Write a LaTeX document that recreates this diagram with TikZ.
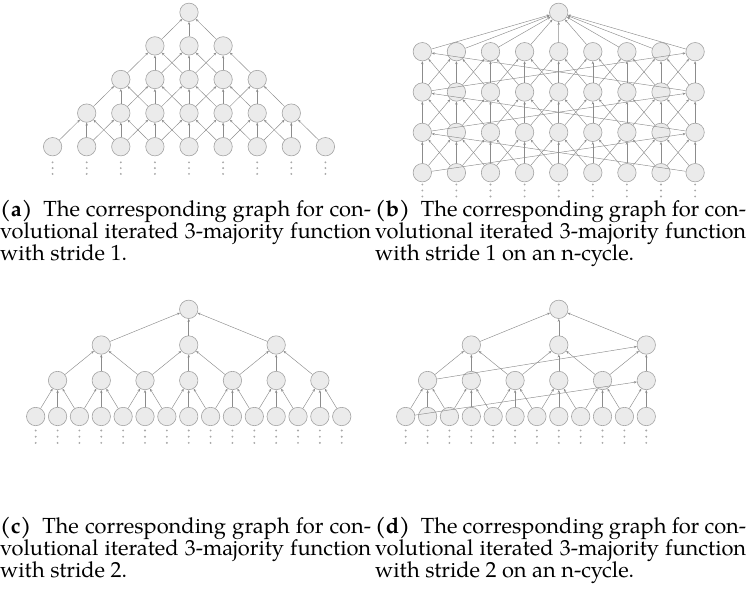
\documentclass[tikz,border=0pt]{standalone}
\usepackage{fontspec}
\setmainfont{TeX Gyre Pagella}
\usetikzlibrary{arrows.meta}
\definecolor{nodefill}{HTML}{EBEBEB}
\definecolor{nodeline}{HTML}{A3A3A3}
\definecolor{edgecol}{HTML}{8C8C8C}
\definecolor{dotcol}{HTML}{A8A8A8}
\newlength\capw
\tikzset{
  gnode/.style={circle, draw=nodeline, fill=nodefill, line width=0.6pt, minimum size=18.4pt, inner sep=0pt},
  edge/.style={draw=edgecol, line width=0.45pt, -{Stealth[length=3pt,width=2.4pt]}},
  vdot/.style={circle, fill=dotcol, minimum size=2.1pt, inner sep=0pt},
  captxt/.style={inner sep=0pt, anchor=base west, font=\fontsize{\capsize pt}{22pt}\selectfont},
}
\begin{document}
\settowidth\capw{\fontsize{10pt}{12pt}\selectfont volutional iterated 3-majority function}%
\pgfmathsetmacro\capsize{10*369/\capw}%
\begin{tikzpicture}[x=1pt,y=-1pt]
\useasboundingbox (0,0) rectangle (746,592);

%% ---------------- (a) stride 1 ----------------
\foreach \r in {0,...,4}{
  \pgfmathtruncatemacro\aLo{4-\r}
  \pgfmathtruncatemacro\aHi{4+\r}
  \foreach \c in {\aLo,...,\aHi}{
    \node[gnode] (a-\r-\c) at ({189+(\c-4)*34.1},{12.3+\r*33.6}) {};
  }
}
\foreach \r in {0,...,3}{
  \pgfmathtruncatemacro\aLo{4-\r}
  \pgfmathtruncatemacro\aHi{4+\r}
  \pgfmathtruncatemacro\rr{\r+1}
  \foreach \c in {\aLo,...,\aHi}{
    \pgfmathtruncatemacro\cL{\c-1}
    \pgfmathtruncatemacro\cR{\c+1}
    \draw[edge] (a-\rr-\cL) -- (a-\r-\c);
    \draw[edge] (a-\rr-\c) -- (a-\r-\c);
    \draw[edge] (a-\rr-\cR) -- (a-\r-\c);
  }
}
\foreach \c in {0,...,8}{
  \foreach \k/\yy in {0/162.3,1/168.1,2/173.9}{
    \node[vdot] (ad-\c-\k) at ({189+(\c-4)*34.1},\yy) {};
  }
}

%% ---------------- (b) stride 1 on n-cycle ----------------
\node[gnode] (b-0) at (558.7,12.3) {};
\foreach \r in {1,...,4}{
  \foreach \c in {0,...,8}{
    \node[gnode] (b-\r-\c) at ({422.3+\c*34.1},{51.7+(\r-1)*40.33}) {};
  }
}
\foreach \c in {0,...,8}{
  \draw[edge] (b-1-\c) -- (b-0);
}
\foreach \r in {1,2,3}{
  \pgfmathtruncatemacro\rr{\r+1}
  \foreach \c in {0,...,8}{
    \pgfmathtruncatemacro\cL{mod(\c+8,9)}
    \pgfmathtruncatemacro\cR{mod(\c+1,9)}
    \draw[edge] (b-\rr-\cL) -- (b-\r-\c);
    \draw[edge] (b-\rr-\c) -- (b-\r-\c);
    \draw[edge] (b-\rr-\cR) -- (b-\r-\c);
  }
}
\foreach \c in {0,...,8}{
  \foreach \k/\yy in {0/184.5,1/190.5,2/196.5}{
    \node[vdot] (bd-\c-\k) at ({422.3+\c*34.1},\yy) {};
  }
}

%% ---------------- (c) stride 2 ----------------
\foreach \p in {0,...,14}{
  \node[gnode] (c-3-\p) at ({35.7+\p*21.86},416.5) {};
}
\foreach \j in {0,...,6}{
  \node[gnode] (c-2-\j) at ({35.7+(2*\j+1)*21.86},380.5) {};
}
\foreach \k in {0,1,2}{
  \node[gnode] (c-1-\k) at ({35.7+(4*\k+3)*21.86},345) {};
}
\node[gnode] (c-0) at ({35.7+7*21.86},309.3) {};
\foreach \j in {0,...,6}{
  \pgfmathtruncatemacro\pa{2*\j}
  \pgfmathtruncatemacro\pb{2*\j+1}
  \pgfmathtruncatemacro\pc{2*\j+2}
  \draw[edge] (c-3-\pa) -- (c-2-\j);
  \draw[edge] (c-3-\pb) -- (c-2-\j);
  \draw[edge] (c-3-\pc) -- (c-2-\j);
}
\foreach \k in {0,1,2}{
  \pgfmathtruncatemacro\pa{2*\k}
  \pgfmathtruncatemacro\pb{2*\k+1}
  \pgfmathtruncatemacro\pc{2*\k+2}
  \draw[edge] (c-2-\pa) -- (c-1-\k);
  \draw[edge] (c-2-\pb) -- (c-1-\k);
  \draw[edge] (c-2-\pc) -- (c-1-\k);
  \draw[edge] (c-1-\k) -- (c-0);
}
\foreach \p in {0,...,14}{
  \foreach \k/\yy in {0/430.5,1/436.7,2/442.9}{
    \node[vdot] (cd-\p-\k) at ({35.7+\p*21.86},\yy) {};
  }
}

%% ---------------- (d) stride 2 on n-cycle ----------------
\foreach \p in {0,...,11}{
  \node[gnode] (d-3-\p) at ({405.7+\p*21.87},416.5) {};
}
\foreach \j in {0,...,5}{
  \node[gnode] (d-2-\j) at ({405.7+(2*\j+1)*21.87},380.5) {};
}
\foreach \k in {0,1,2}{
  \node[gnode] (d-1-\k) at ({405.7+(4*\k+3)*21.87},345) {};
}
\node[gnode] (d-0) at ({405.7+7*21.87},309.3) {};
\foreach \j in {0,...,5}{
  \pgfmathtruncatemacro\pa{mod(2*\j,12)}
  \pgfmathtruncatemacro\pb{mod(2*\j+1,12)}
  \pgfmathtruncatemacro\pc{mod(2*\j+2,12)}
  \draw[edge] (d-3-\pa) -- (d-2-\j);
  \draw[edge] (d-3-\pb) -- (d-2-\j);
  \draw[edge] (d-3-\pc) -- (d-2-\j);
}
\foreach \k in {0,1,2}{
  \pgfmathtruncatemacro\pa{mod(2*\k,6)}
  \pgfmathtruncatemacro\pb{mod(2*\k+1,6)}
  \pgfmathtruncatemacro\pc{mod(2*\k+2,6)}
  \draw[edge] (d-2-\pa) -- (d-1-\k);
  \draw[edge] (d-2-\pb) -- (d-1-\k);
  \draw[edge] (d-2-\pc) -- (d-1-\k);
  \draw[edge] (d-1-\k) -- (d-0);
}
\foreach \p in {0,...,11}{
  \foreach \k/\yy in {0/430.5,1/436.7,2/442.9}{
    \node[vdot] (dd-\p-\k) at ({405.7+\p*21.87},\yy) {};
  }
}

%% ---------------- captions ----------------
\node[captxt] (capa1) at (0,216.5) {\makebox[371pt][s]{\textbf{(a)}\enspace The corresponding graph for con-}};
\node[captxt] (capa2) at (0,238.5) {\makebox[371pt][s]{volutional iterated 3-majority function}};
\node[captxt] (capa3) at (0,260.5) {with stride 1.};
\node[captxt] (capb1) at (375,216.5) {\makebox[371pt][s]{\textbf{(b)}\enspace The corresponding graph for con-}};
\node[captxt] (capb2) at (375,238.5) {\makebox[371pt][s]{volutional iterated 3-majority function}};
\node[captxt] (capb3) at (375,260.5) {with stride 1 on an n-cycle.};

\node[captxt] (capc1) at (0,533.5) {\makebox[371pt][s]{\textbf{(c)}\enspace The corresponding graph for con-}};
\node[captxt] (capc2) at (0,555.5) {\makebox[371pt][s]{volutional iterated 3-majority function}};
\node[captxt] (capc3) at (0,577.5) {with stride 2.};
\node[captxt] (capd1) at (375,533.5) {\makebox[371pt][s]{\textbf{(d)}\enspace The corresponding graph for con-}};
\node[captxt] (capd2) at (375,555.5) {\makebox[371pt][s]{volutional iterated 3-majority function}};
\node[captxt] (capd3) at (375,577.5) {with stride 2 on an n-cycle.};
\end{tikzpicture}
\end{document}
